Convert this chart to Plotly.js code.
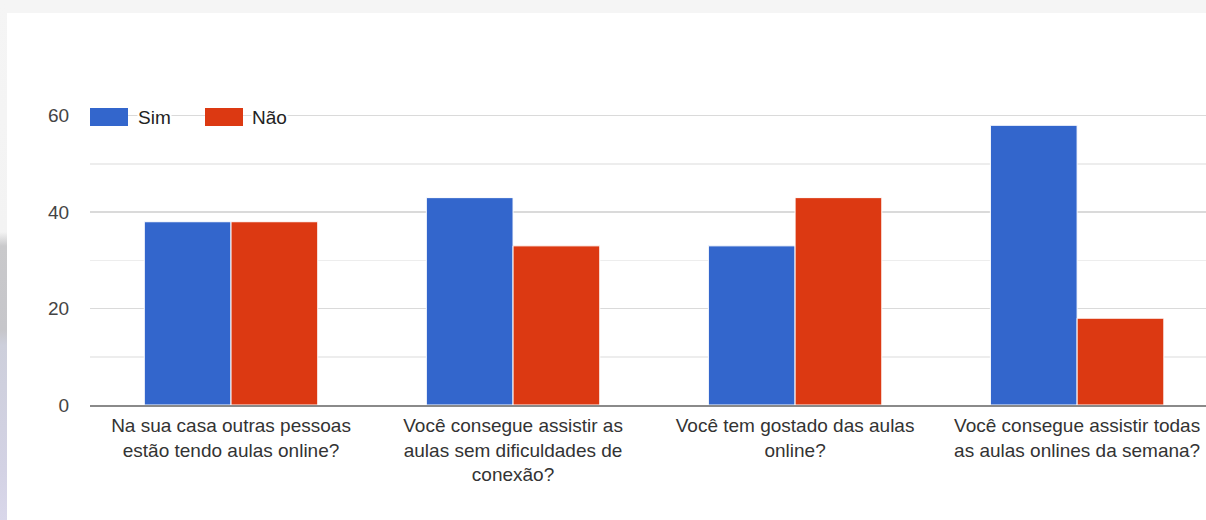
<!DOCTYPE html>
<html>
<head>
<meta charset="utf-8">
<script src="https://cdn.plot.ly/plotly-3.0.1.min.js"></script>
<style>
  html, body { margin: 0; padding: 0; width: 1206px; height: 520px; overflow: hidden; background: #f5f5f5; }
  #strip { position: absolute; left: 0; top: 0; width: 7px; height: 520px;
    background: linear-gradient(to bottom, #f5f5f5 0px, #f3f3f3 232px, #c9c9cb 246px, #c6c6ca 330px, #cdcfdb 345px, #d3d2e4 470px, #d9d7ea 520px); }
  #card { position: absolute; left: 7px; top: 13px; width: 1199px; height: 507px; background: #fff; }
  #chart { width: 1199px; height: 507px; }
</style>
</head>
<body>
<div id="strip"></div>
<div id="card"><div id="chart"></div></div>
<script>
// Survey questions (x categories) and answer counts
const questions = [
  'Na sua casa outras pessoas<br>estão tendo aulas online?',
  'Você consegue assistir as<br>aulas sem dificuldades de<br>conexão?',
  'Você tem gostado das aulas<br>online?',
  'Você consegue assistir todas<br>as aulas onlines da semana?'
];
const simValues = [38, 43, 33, 58];
const naoValues = [38, 33, 43, 18];
const seriesNames = ['Sim', 'Não'];
const yTickValues = [0, 20, 40, 60];

const W = 1199, H = 507;
const M = { l: 83, r: 0, t: 93, b: 115 };
const plotW = W - M.l - M.r, plotH = H - M.t - M.b;
const px = x => (x - M.l) / plotW;          // pixel -> paper x
const py = y => 1 - (y - M.t) / plotH;      // pixel -> paper y

const BLUE = '#3366cc', RED = '#dc3912';
const FONT = 'Arial, "Liberation Sans", sans-serif';

const traces = [
  { type: 'bar', name: seriesNames[0], x: questions, y: simValues,
    marker: { color: BLUE, line: { color: '#ffffff', width: 1 } }, hoverinfo: 'x+y' },
  { type: 'bar', name: seriesNames[1], x: questions, y: naoValues,
    marker: { color: RED, line: { color: '#ffffff', width: 1 } }, hoverinfo: 'x+y' }
];

// Legend drawn as swatches + labels sitting on the top gridline
const swatches = [
  { x0: 83, x1: 121, color: BLUE },
  { x0: 198, x1: 236, color: RED }
];
const shapes = swatches.map(s => ({
  type: 'rect', xref: 'paper', yref: 'paper',
  x0: px(s.x0), x1: px(s.x1), y0: py(113), y1: py(95),
  fillcolor: s.color, line: { width: 0 }, layer: 'above'
}));
const annotations = [
  { text: seriesNames[0], x: px(130), y: py(104) },
  { text: seriesNames[1], x: px(244), y: py(104) }
].map(a => Object.assign(a, {
  xref: 'paper', yref: 'paper', xanchor: 'left', yanchor: 'middle',
  showarrow: false, bgcolor: '#ffffff', borderpad: 0,
  font: { family: FONT, size: 19, color: '#222222' }
}));

const layout = {
  width: W, height: H,
  margin: M,
  paper_bgcolor: '#ffffff', plot_bgcolor: '#ffffff',
  barmode: 'group', bargap: 0.385, bargroupgap: 0,
  showlegend: false,
  font: { family: FONT },
  xaxis: {
    type: 'category', range: [-0.5, 3.457],
    showline: true, linecolor: '#8a8a8a', linewidth: 2,
    showgrid: false, zeroline: false,
    ticks: 'outside', ticklen: 2, tickcolor: 'rgba(0,0,0,0)',
    tickfont: { family: FONT, size: 19, color: '#333333' }
  },
  yaxis: {
    range: [0, 62], tickvals: yTickValues,
    showgrid: true, gridcolor: '#dadada', gridwidth: 1.5,
    minor: { dtick: 10, tick0: 0, showgrid: true, gridcolor: '#ededed', gridwidth: 1.5 },
    zeroline: false, showline: false,
    ticks: 'outside', ticklen: 16, tickcolor: 'rgba(0,0,0,0)',
    tickfont: { family: FONT, size: 19, color: '#444444' }
  },
  shapes: shapes,
  annotations: annotations
};

Plotly.newPlot('chart', traces, layout, { displayModeBar: false, staticPlot: true });
</script>
</body>
</html>
